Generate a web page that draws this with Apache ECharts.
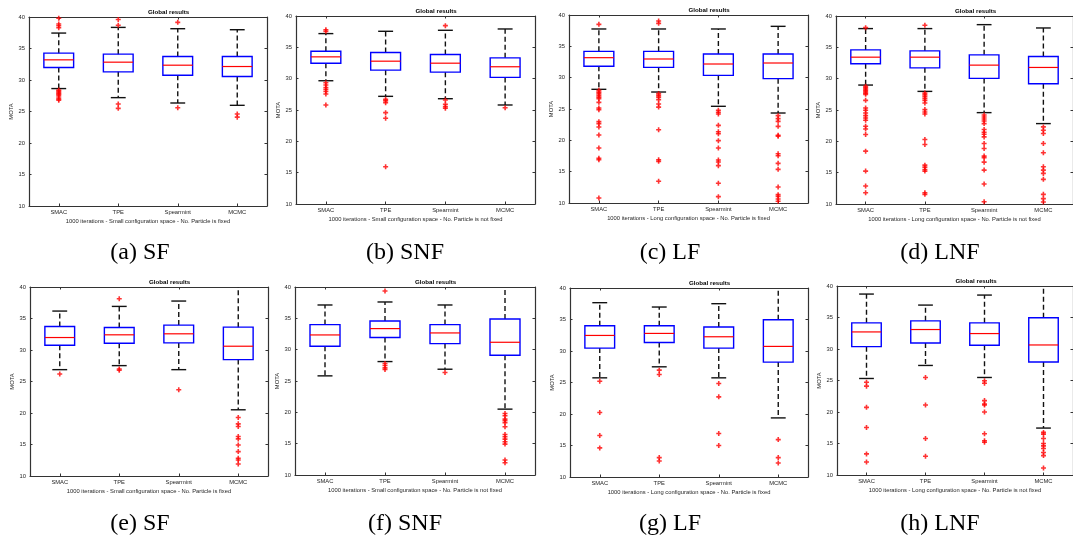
<!DOCTYPE html>
<html><head><meta charset="utf-8">
<script src="https://cdn.jsdelivr.net/npm/echarts/dist/echarts.min.js"></script>
<style>html,body{margin:0;padding:0;background:#fff}#c{width:1073px;height:542px}</style>
</head><body><div id="c"></div>
<script>
// ---------- data ----------
const categories = ['SMAC', 'TPE', 'Spearmint', 'MCMC'];
const yMin = 10, yMax = 40, yStep = 5;
const chartTitle = 'Global results';
const yName = 'MOTA';
const xlabelSF = '1000 iterations - Small configuration space - No. Particle is fixed';
const xlabelSNF = '1000 iterations - Small configuration space - No. Particle is not fixed';
const xlabelLF = '1000 iterations - Long configuration space - No. Particle is fixed';
const xlabelLNF = '1000 iterations - Long configuration space - No. Particle is not fixed';
const captions = ['(a) SF', '(b) SNF', '(c) LF', '(d) LNF', '(e) SF', '(f) SNF', '(g) LF', '(h) LNF'];

// boxes: [lower whisker, Q1, median, Q3, upper whisker] for SMAC, TPE, Spearmint, MCMC
const boxA = [[28.64, 31.98, 33.2, 34.26, 37.45], [27.2, 31.29, 32.83, 34.1, 38.35], [26.35, 30.76, 32.35, 33.73, 38.14], [25.98, 30.55, 32.14, 33.73, 37.98]];
const outA = [[39.8, 38.9, 38.6, 38.3, 28.4, 28.2, 28.0, 27.8, 27.6, 27.3, 27.0, 26.8], [39.6, 38.7, 26.2, 25.5], [39.15, 25.6], [24.6, 24.1]];

const boxB = [[29.67, 32.47, 33.48, 34.38, 37.19], [27.18, 31.36, 32.79, 34.17, 37.56], [26.8, 31.04, 32.47, 33.85, 37.72], [25.8, 30.2, 31.9, 33.32, 37.93]];
const outB = [[37.8, 37.55, 29.35, 29.0, 28.6, 28.3, 27.97, 27.55, 25.8], [26.7, 26.49, 26.17, 24.58, 23.68, 15.94], [38.46, 26.59, 25.9, 25.53, 25.27], [25.37]];

const boxC = [[28.14, 31.81, 33.19, 34.2, 37.77], [27.71, 31.65, 32.98, 34.2, 37.77], [25.43, 30.37, 32.18, 33.78, 37.77], [24.36, 29.84, 32.34, 33.78, 38.19]];
const outC = [[38.51, 27.98, 27.7, 27.45, 27.18, 26.9, 26.65, 26.06, 25.16, 24.9, 22.98, 22.66, 22.13, 20.85, 18.78, 17.13, 16.9, 10.8],
  [39.04, 38.67, 27.45, 27.18, 26.9, 26.49, 25.8, 25.3, 21.7, 16.9, 16.65, 13.46],
  [24.79, 24.47, 24.2, 22.39, 21.38, 21.06, 19.95, 18.78, 16.86, 16.54, 15.96, 13.14, 11.01],
  [23.94, 23.46, 23.03, 22.23, 20.8, 20.64, 17.87, 17.55, 16.33, 15.37, 12.55, 11.33, 11.06, 10.64, 10.27]];

const boxD = [[28.98, 32.37, 33.43, 34.59, 37.99], [27.97, 31.73, 33.43, 34.44, 37.99], [24.58, 30.04, 32.16, 33.8, 38.62], [22.83, 29.19, 31.79, 33.53, 38.09]];
const outD = [[38.14, 28.77, 28.56, 28.35, 28.14, 27.93, 27.7, 27.5, 26.54, 25.32, 24.95, 24.53, 24.1, 23.73, 23.36, 22.4, 21.98, 21.08, 18.43, 15.25, 12.87, 11.8],
  [38.52, 27.7, 27.44, 27.18, 26.86, 26.54, 26.11, 25.06, 24.68, 24.37, 20.29, 19.49, 16.2, 15.88, 15.5, 15.25, 11.8, 11.54],
  [24.21, 23.89, 23.57, 23.25, 22.83, 21.88, 21.45, 21.13, 20.71, 19.65, 18.85, 17.64, 17.37, 16.68, 15.41, 13.18, 10.37],
  [22.3, 21.77, 21.24, 19.65, 18.17, 15.94, 15.41, 14.88, 13.93, 11.54, 10.85, 10.32]];

const boxE = [[26.88, 30.76, 31.98, 33.73, 36.18], [27.52, 31.08, 32.41, 33.57, 36.92], [26.88, 31.13, 32.57, 33.95, 37.77], [20.51, 28.48, 30.6, 33.63, 42.5]];
const outE = [[26.19], [38.14, 26.99, 26.78], [23.7], [19.29, 18.28, 17.86, 16.26, 15.89, 14.93, 13.87, 12.81, 12.55, 11.9]];

const boxF = [[25.82, 30.55, 32.35, 34.0, 37.13], [28.1, 31.93, 33.36, 34.58, 37.61], [26.88, 30.97, 32.67, 34.0, 37.13], [20.51, 29.11, 31.18, 34.9, 43]];
const outF = [[], [39.36, 27.79, 27.47, 27.1, 26.83], [26.35], [19.82, 19.45, 18.92, 18.65, 18.33, 17.7, 16.47, 16.1, 15.73, 15.3, 14.93, 12.39, 11.96]];

const boxG = [[25.74, 30.46, 32.47, 34.01, 37.67], [27.49, 31.36, 32.79, 34.01, 36.98], [25.74, 30.46, 32.26, 33.8, 37.51], [19.38, 28.24, 30.73, 34.97, 43]];
const outG = [[25.21, 20.23, 16.58, 14.62], [26.96, 26.27, 13.08, 12.55], [24.84, 22.72, 16.9, 14.99], [15.94, 13.08, 12.23]];

const boxH = [[25.32, 30.37, 32.71, 34.15, 38.72], [27.39, 30.96, 33.09, 34.47, 36.97], [25.48, 30.59, 32.45, 34.15, 38.56], [17.45, 27.93, 30.64, 34.95, 43]];
const outH = [[24.73, 24.1, 20.74, 17.55, 13.35, 12.07], [25.48, 21.12, 15.8, 12.98], [24.95, 24.57, 21.81, 21.28, 21.12, 20.0, 16.54, 15.43, 15.21], [16.76, 16.49, 15.8, 15.0, 14.63, 14.2, 13.56, 13.08, 11.12]];

// ---------- layout ----------
const panels = [
  { box: boxA, out: outA, xlabel: xlabelSF,  rect: [29, 17, 238, 189] },
  { box: boxB, out: outB, xlabel: xlabelSNF, rect: [296, 16, 239, 188] },
  { box: boxC, out: outC, xlabel: xlabelLF,  rect: [569, 15, 239, 188] },
  { box: boxD, out: outD, xlabel: xlabelLNF, rect: [836, 16, 238, 188] },
  { box: boxE, out: outE, xlabel: xlabelSF,  rect: [30, 287, 238, 189] },
  { box: boxF, out: outF, xlabel: xlabelSNF, rect: [295, 287, 240, 188] },
  { box: boxG, out: outG, xlabel: xlabelLF,  rect: [570, 288, 238, 189] },
  { box: boxH, out: outH, xlabel: xlabelLNF, rect: [837, 286, 237, 189] }
];
const captionPos = [[140, 253], [405, 253], [670, 253], [940, 253], [140, 524], [405, 524], [670, 524], [940, 524]];

const axisColor = '#333';
const font = 'Liberation Sans, Arial, sans-serif';
const fs = 5.8;
const plusPath = 'path://M3.4,0H6.6V3.4H10V6.6H6.6V10H3.4V6.6H0V3.4H3.4Z';

function renderBox(params, api) {
  const x = api.value(0);
  const low = api.coord([x, api.value(1)]);
  const q1 = api.coord([x, api.value(2)]);
  const med = api.coord([x, api.value(3)]);
  const q3 = api.coord([x, api.value(4)]);
  const high = api.coord([x, api.value(5)]);
  const bw = api.size([1, 0])[0] * 0.5;
  const cx = q1[0];
  const dash = { stroke: '#111', lineWidth: 1.4, lineDash: [5, 3] };
  const solid = { stroke: '#111', lineWidth: 1.4 };
  return {
    type: 'group',
    children: [
      { type: 'line', shape: { x1: cx, y1: q3[1], x2: cx, y2: high[1] }, style: dash },
      { type: 'line', shape: { x1: cx, y1: q1[1], x2: cx, y2: low[1] }, style: dash },
      { type: 'line', shape: { x1: cx - bw / 4, y1: high[1], x2: cx + bw / 4, y2: high[1] }, style: solid },
      { type: 'line', shape: { x1: cx - bw / 4, y1: low[1], x2: cx + bw / 4, y2: low[1] }, style: solid },
      { type: 'rect', shape: { x: cx - bw / 2, y: q3[1], width: bw, height: q1[1] - q3[1] }, style: { fill: 'none', stroke: '#0000ff', lineWidth: 1.4 } },
      { type: 'line', shape: { x1: cx - bw / 2, y1: med[1], x2: cx + bw / 2, y2: med[1] }, style: { stroke: '#ff0000', lineWidth: 1.2 } }
    ]
  };
}

const grid = [], xAxis = [], yAxis = [], series = [], graphic = [];
panels.forEach((p, i) => {
  const [l, t, w, h] = p.rect;
  grid.push({ left: l, top: t, width: w, height: h, containLabel: false });
  const tick = { show: true, inside: true, length: 2.5, alignWithLabel: true, lineStyle: { color: axisColor, width: 1 } };
  const line = { show: true, onZero: false, lineStyle: { color: axisColor, width: 1.2 } };
  xAxis.push({
    type: 'category', gridIndex: i, data: categories, boundaryGap: true,
    axisLine: line, axisTick: tick,
    axisLabel: { fontSize: fs, fontFamily: font, color: '#262626', margin: 3 },
    name: p.xlabel, nameLocation: 'middle', nameGap: 12,
    nameTextStyle: { fontSize: fs, fontFamily: font, color: '#262626' },
    splitLine: { show: false }
  });
  xAxis.push({
    type: 'category', gridIndex: i, data: categories, position: 'top', boundaryGap: true,
    axisLine: line, axisTick: tick, axisLabel: { show: false }, splitLine: { show: false }
  });
  yAxis.push({
    type: 'value', gridIndex: i, min: yMin, max: yMax, interval: yStep,
    axisLine: line, axisTick: { show: true, inside: true, length: 2.5, lineStyle: { color: axisColor } },
    axisLabel: { fontSize: fs, fontFamily: font, color: '#262626', margin: 4 },
    splitLine: { show: false },
    name: yName, nameLocation: 'middle', nameGap: 14, nameRotate: 90,
    nameTextStyle: { fontSize: fs, fontFamily: font, color: '#262626' }
  });
  yAxis.push({
    type: 'value', gridIndex: i, min: yMin, max: yMax, interval: yStep, position: 'right',
    axisLine: line, axisTick: { show: true, inside: true, length: 2.5, lineStyle: { color: axisColor } },
    axisLabel: { show: false }, splitLine: { show: false }
  });
  series.push({
    type: 'custom', xAxisIndex: 2 * i, yAxisIndex: 2 * i, clip: true,
    renderItem: renderBox,
    encode: { x: 0, y: [1, 2, 3, 4, 5] },
    data: p.box.map((b, k) => [k].concat(b)),
    z: 2
  });
  const pts = [];
  p.out.forEach((arr, k) => arr.forEach(v => pts.push([k, v])));
  series.push({
    type: 'scatter', xAxisIndex: 2 * i, yAxisIndex: 2 * i,
    symbol: plusPath, symbolSize: 5,
    itemStyle: { color: '#ff0000' },
    data: pts, z: 3, silent: true
  });
  graphic.push({
    type: 'text', left: l + w / 2, top: t - 8, z: 10,
    style: { text: chartTitle, font: 'bold 6.2px ' + font, fill: '#000', textAlign: 'center' }
  });
  graphic.push({
    type: 'text', x: captionPos[i][0], y: captionPos[i][1], z: 10,
    style: { text: captions[i], font: '24px Liberation Serif, Times New Roman, serif', fill: '#000', textAlign: 'center', textVerticalAlign: 'middle' }
  });
});

const chart = echarts.init(document.getElementById('c'), null, { renderer: 'canvas' });
chart.setOption({
  animation: false,
  backgroundColor: '#fff',
  grid, xAxis, yAxis, series, graphic
});
</script>
</body></html>
